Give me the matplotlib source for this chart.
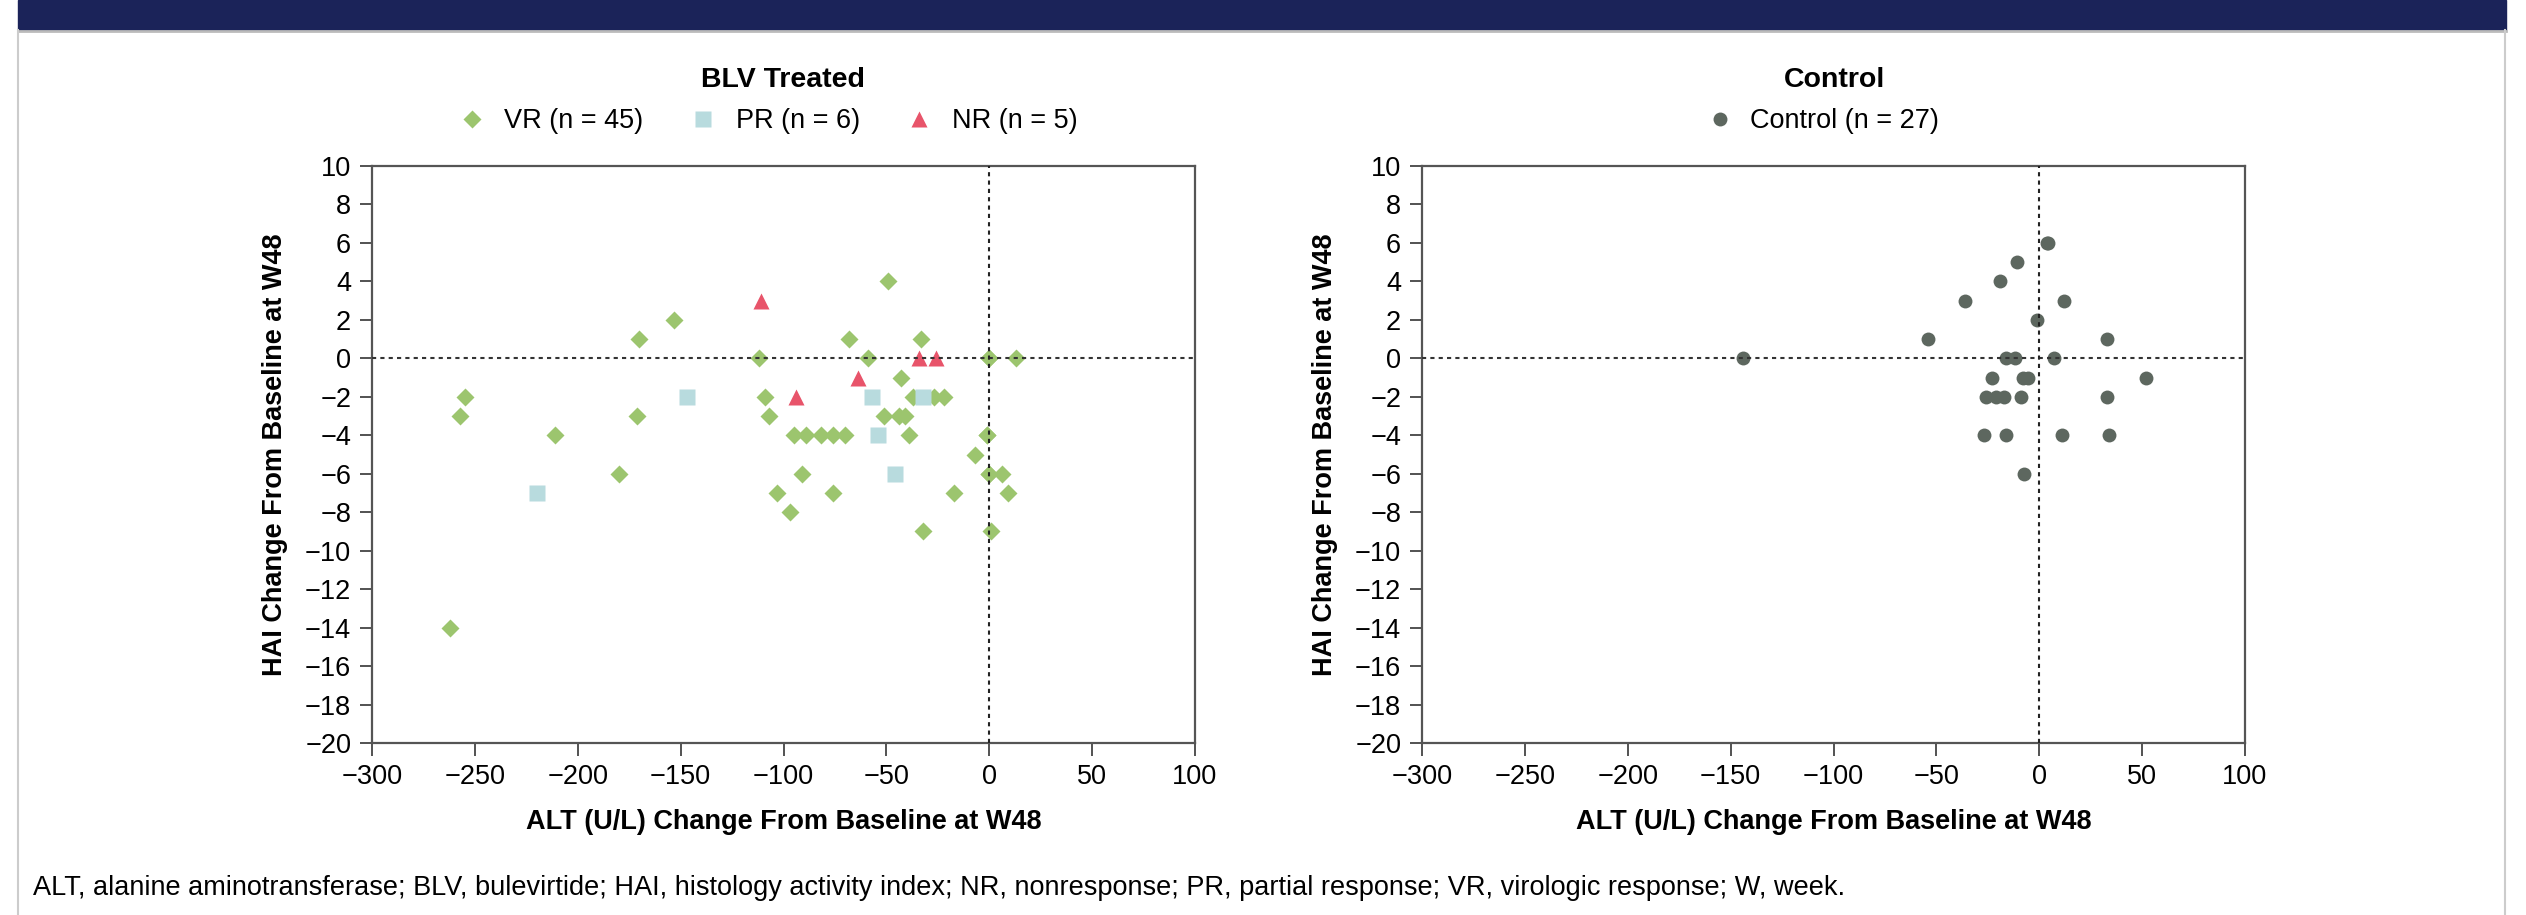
import matplotlib
matplotlib.use("Agg")
import matplotlib.pyplot as plt
from matplotlib.lines import Line2D

plt.rcParams['font.family'] = ['Liberation Sans', 'DejaVu Sans']

W, H = 2526, 915

# BLV treated, virologic response (VR)
vr_alt = [-255, -109, -37, -27, -22,
          -257, -171, -107, -51, -44, -41,
          -211, -95, -89, -82, -76, -70, -39, -1, -1,
          -180, -91, 0, 0, 6,
          -103, -76, -17, 9,
          -97,
          -32, 1,
          -262,
          -7,
          -43,
          -112, -59, 0, 0, 13,
          -170, -68, -33,
          -153,
          -49]
vr_hai = [-2, -2, -2, -2, -2,
          -3, -3, -3, -3, -3, -3,
          -4, -4, -4, -4, -4, -4, -4, -4, -4,
          -6, -6, -6, -6, -6,
          -7, -7, -7, -7,
          -8,
          -9, -9,
          -14,
          -5,
          -1,
          0, 0, 0, 0, 0,
          1, 1, 1,
          2,
          4]

# partial response (PR)
pr_alt = [-220, -147, -57, -54, -46, -32]
pr_hai = [-7, -2, -2, -4, -6, -2]

# nonresponse (NR)
nr_alt = [-111, -94, -64, -34, -26]
nr_hai = [3, -2, -1, 0, 0]

# control arm
ctl_alt = [-144, -54, -36, -19, -11, 3.8, 4.4, 12, -1, -16, -12, 7, 33,
           -23, -8, -5.5, 52, -26, -21, -17, -9, 33, -27, -16, 11, 34, -7.5]
ctl_hai = [0, 1, 3, 4, 5, 6, 6, 3, 2, 0, 0, 0, 1,
           -1, -1, -1, -1, -2, -2, -2, -2, -2, -4, -4, -4, -4, -6]

x_ticks = list(range(-300, 101, 50))
y_ticks = list(range(-20, 11, 2))

GREEN = '#9cc56e'
BLUE = '#b8dbde'
RED = '#e8546a'
GREY = '#5d675f'
NAVY = '#1b2359'
FS = 19.5


def px_box(x0, y0, x1, y1):
    return [x0 / W, 1 - y1 / H, (x1 - x0) / W, (y1 - y0) / H]


def style_axes(ax):
    ax.set_xlim(-300, 100)
    ax.set_ylim(-20, 10)
    ax.set_xticks(x_ticks)
    ax.set_yticks(y_ticks)
    ax.tick_params(labelsize=FS, length=9, width=1.3, pad=6, color='#444444')
    for s in ax.spines.values():
        s.set_linewidth(1.6)
        s.set_color('#555555')
    ax.axhline(0, color='#333333', lw=1.5, ls=(0, (2, 2)), zorder=4)
    ax.axvline(0, color='#222222', lw=1.5, ls=(0, (2, 2)), zorder=4)
    ax.set_xlabel('ALT (U/L) Change From Baseline at W48', fontsize=FS,
                  fontweight='bold', labelpad=14)
    ax.set_ylabel('HAI Change From Baseline at W48', fontsize=FS,
                  fontweight='bold', labelpad=12)


fig = plt.figure(figsize=(W / 100, H / 100), dpi=100)

# header band and frame
fig.patches.append(plt.Rectangle((18 / W, 1 - 30 / H), (2506 - 18) / W, 30 / H,
                                 transform=fig.transFigure, color=NAVY, zorder=0))
fig.lines.append(Line2D([18 / W, 2506 / W], [1 - 31 / H, 1 - 31 / H],
                        transform=fig.transFigure, color='#bbbbbb', lw=2))
for xf in (18 / W, 2505 / W):
    fig.lines.append(Line2D([xf, xf], [0, 1 - 30 / H], transform=fig.transFigure,
                            color='#cccccc', lw=1.5))

ax1 = fig.add_axes(px_box(372, 166, 1195, 743))
ax1.plot(vr_alt, vr_hai, 'D', color=GREEN, ms=9, mec='none', label='VR (n = 45)', zorder=3)
ax1.plot(pr_alt, pr_hai, 's', color=BLUE, ms=11, mec='none', label='PR (n = 6)', zorder=3)
ax1.plot(nr_alt, nr_hai, '^', color=RED, ms=11, mec='none', label='NR (n = 5)', zorder=3)
style_axes(ax1)
ax1.legend(loc='center', bbox_to_anchor=(768 / W, 1 - 121 / H), bbox_transform=fig.transFigure,
           ncol=3, frameon=False, fontsize=FS, handlelength=1.0, handletextpad=0.7,
           columnspacing=1.7)
fig.text(783 / W, 1 - 80 / H, 'BLV Treated', ha='center', va='center',
         fontsize=20.5, fontweight='bold')

ax2 = fig.add_axes(px_box(1422, 166, 2245, 743))
ax2.plot(ctl_alt, ctl_hai, 'o', color=GREY, ms=10, mec='none', label='Control (n = 27)', zorder=3)
style_axes(ax2)
ax2.legend(loc='center', bbox_to_anchor=(1823 / W, 1 - 121 / H), bbox_transform=fig.transFigure,
           frameon=False, fontsize=FS, handlelength=1.0, handletextpad=0.6)
fig.text(1834 / W, 1 - 80 / H, 'Control', ha='center', va='center',
         fontsize=20.5, fontweight='bold')

fig.text(33 / W, 1 - 888 / H,
         'ALT, alanine aminotransferase; BLV, bulevirtide; HAI, histology activity index; '
         'NR, nonresponse; PR, partial response; VR, virologic response; W, week.',
         ha='left', va='center', fontsize=19.5)

fig.savefig('out.png', dpi=100)
